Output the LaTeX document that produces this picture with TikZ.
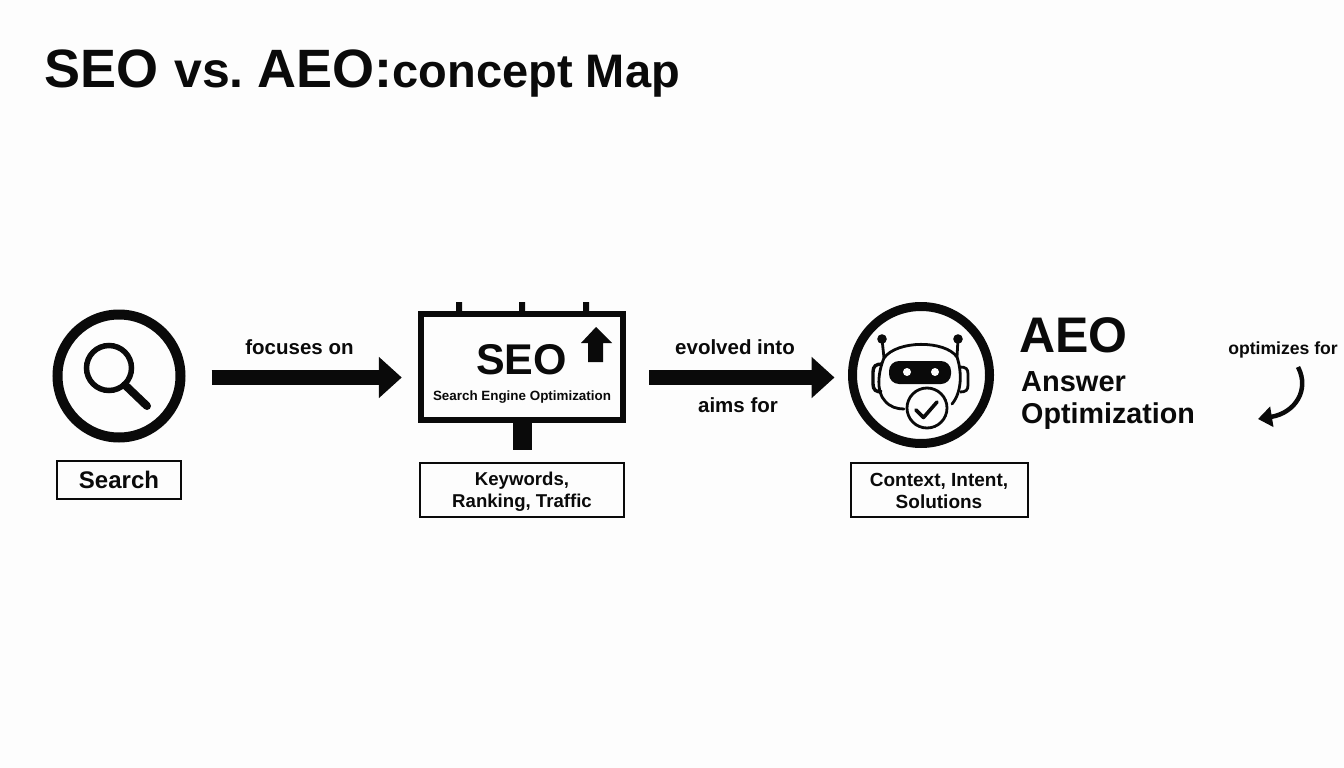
\documentclass[tikz,border=0pt]{standalone}
\usepackage{fontspec}
\setmainfont{Liberation Sans}
\usetikzlibrary{arrows.meta}
\definecolor{ink}{HTML}{0A0A0A}
\definecolor{paper}{HTML}{FDFDFD}
\tikzset{
  ringnode/.style={circle,draw=ink,fill=paper,inner sep=0pt,outer sep=0pt},
  capbox/.style={draw=ink,line width=2pt,fill=paper,inner sep=0pt,outer sep=0pt,align=center,font=\bfseries\fontsize{18.6}{22}\selectfont,text=ink},
  label/.style={font=\bfseries\fontsize{20.5}{24}\selectfont,text=ink,inner sep=0pt},
  bigarrow/.style={draw=ink,line width=15pt,-{Triangle[length=23pt,width=40pt,color=ink]}},
  hair/.style={draw=ink,line width=2.8pt,line cap=round,line join=round}
}
\begin{document}
\begin{tikzpicture}[x=1pt,y=-1pt]
\useasboundingbox (0,0) rectangle (1344,768);
\fill[paper] (0,0) rectangle (1344,768);
% title
\node[anchor=base west,inner sep=0pt,text=ink] (title) at (44,88)
  {\bfseries\fontsize{54}{58}\selectfont SEO\hspace{16pt}\fontsize{50}{58}\selectfont vs.\hspace{14pt}\fontsize{54}{58}\selectfont AEO:\fontsize{47}{58}\selectfont concept Map};
% search
\node[ringnode,minimum size=123pt,line width=10pt] (search) at (119,376) {};
\draw[ink,line width=5.5pt] (109,368) circle (22.5pt);
\draw[ink,line width=8pt,line cap=round] (125,385) -- (147,406);
\node[capbox,minimum width=124pt,minimum height=38pt,font=\bfseries\fontsize{24}{28}\selectfont] (searchbox) at (119,480) {Search};
% billboard
\fill[ink] (456,302) rectangle (462,312) (519,302) rectangle (525,312) (583,302) rectangle (589,312);
\fill[ink] (513,420) rectangle (532,450);
\node[draw=ink,fill=paper,line width=6.5pt,minimum width=202pt,minimum height=106pt,inner sep=0pt,outer sep=3.25pt] (board) at (522,367) {};
\node[inner sep=0pt,text=ink,font=\bfseries\fontsize{43}{46}\selectfont] (seo) at (521.5,360) {SEO};
\node[inner sep=0pt,text=ink,font=\bfseries\fontsize{13.4}{16}\selectfont] (seosub) at (522,397) {Search Engine Optimization};
\fill[ink] (596,327) -- (612,343) -- (603,343) -- (603,362) -- (588,362) -- (588,343) -- (581,343) -- cycle;
\node[capbox,minimum width=204pt,minimum height=54pt] (seobox) at (522,489.5) {\rule{0pt}{17pt}Keywords,\\Ranking, Traffic};
% robot
\node[ringnode,minimum size=137pt,line width=9pt] (robot) at (921,375) {};
\draw[hair] (884,358) .. controls (897,340) and (945,340) .. (957,357);
\draw[hair] (884,358) .. controls (878,372) and (876,392) .. (885,401) .. controls (890,407) and (897,409) .. (904,409);
\draw[hair] (957,357) .. controls (962,372) and (962,392) .. (952,404);
\draw[hair] (882,339) -- (884,358) (958,339) -- (957,357);
\fill[ink] (882,339) circle (4.8pt) (958,339) circle (4.8pt);
\draw[hair,line width=3.4pt,line cap=butt] (882,364) .. controls (876,364) and (873,366) .. (873,372) -- (873,384) .. controls (873,390) and (876,392) .. (882,392);
\draw[hair,line cap=butt] (960,367) .. controls (966,367) and (968,369) .. (968,374) -- (968,385) .. controls (968,390) and (966,392) .. (960,392);
\fill[ink,rounded corners=10pt] (889,361) rectangle (951,384);
\fill[paper] (907,372) circle (4pt) (935,372) circle (4pt);
\draw[ink,line width=2.8pt,fill=paper] (927,408) circle (20pt);
\draw[ink,line width=3.6pt,line cap=round,line join=round] (916,410) -- (923.5,417.5) -- (937,402);
\node[capbox,minimum width=177pt,minimum height=54pt,font=\bfseries\fontsize{19}{22}\selectfont] (aeobox) at (939,489.5) {\rule{0pt}{17pt}Context, Intent,\\Solutions};
% AEO text
\node[anchor=base west,inner sep=0pt,text=ink,font=\bfseries\fontsize{50}{54}\selectfont] (aeo) at (1019,352) {AEO};
\node[anchor=base west,inner sep=0pt,text=ink,font=\bfseries\fontsize{29}{32}\selectfont] (answer) at (1021,391) {Answer};
\node[anchor=base west,inner sep=0pt,text=ink,font=\bfseries\fontsize{28.7}{32}\selectfont] (optim) at (1021,423) {Optimization};
% connectors
\draw[bigarrow,shorten <=31pt,shorten >=16pt] (search.east |- 0,377.5) -- (board.west |- 0,377.5);
\draw[bigarrow,shorten <=23pt,shorten >=18pt] (board.east |- 0,377.5) -- (robot.west |- 0,377.5);
% edge labels
\node[label] (l1) at (299.5,347) {focuses on};
\node[label] (l2) at (735,347.5) {evolved into};
\node[label] (l3) at (738,405) {aims for};
\node[inner sep=0pt,text=ink,font=\bfseries\fontsize{17.6}{20}\selectfont] (l4) at (1283,349.5) {optimizes for};
\coordinate (c1) at (1298,367);
\coordinate (c2) at (1258,419);
\draw[ink,line width=4.5pt,-{Triangle[length=14pt,width=20pt,color=ink]}] (c1) .. controls (1310,390) and (1295,413) .. (c2);
\end{tikzpicture}
\end{document}
